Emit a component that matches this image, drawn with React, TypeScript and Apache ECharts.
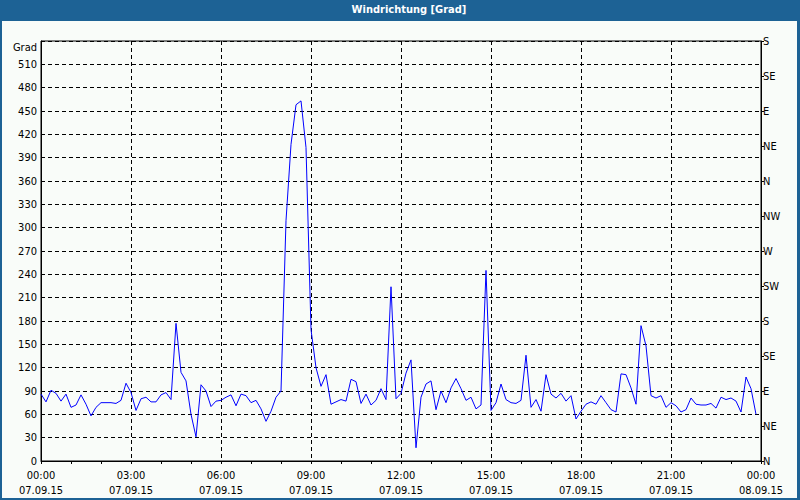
import React, { useEffect, useRef } from "react";
import * as echarts from "echarts";

const titleText = "Windrichtung [Grad]";
const unitLabel = "Grad";

// 10-minute samples, 00:00 .. 23:50 on 07.09.15
const stepMinutes = 10;
const values0006 = [
  86, 76, 91, 87, 77, 86, 69, 72, 85, 73, 58, 69, 75, 75, 75, 74, 78, 100,
  88, 65, 80, 82, 76, 76, 85, 88, 79, 177, 114, 103, 60, 31, 98, 90, 70, 77,
];
const values0612 = [
  78, 82, 85, 71, 86, 84, 75, 78, 67, 51, 64, 82, 90, 309, 407, 458, 463, 403,
  169, 120, 96, 111, 73, 76, 79, 77, 105, 102, 74, 86, 72, 78, 93, 79, 224, 80,
];
const values1218 = [
  87, 113, 130, 17, 82, 99, 103, 66, 90, 75, 94, 106, 93, 78, 82, 67, 72, 245,
  65, 75, 99, 79, 75, 74, 78, 136, 69, 79, 64, 111, 86, 81, 87, 77, 84, 54,
];
const values1824 = [
  64, 73, 76, 73, 84, 75, 66, 63, 112, 111, 94, 73, 174, 148, 84, 81, 84, 69,
  75, 71, 63, 66, 81, 73, 72, 72, 74, 68, 82, 79, 81, 77, 63, 108, 93, 60,
];

const xTickTimes = ["00:00", "03:00", "06:00", "09:00", "12:00", "15:00", "18:00", "21:00", "00:00"];
const xTickDates = ["07.09.15", "07.09.15", "07.09.15", "07.09.15", "07.09.15", "07.09.15", "07.09.15", "07.09.15", "08.09.15"];
const compassLabels = ["N", "NE", "E", "SE", "S", "SW", "W", "NW", "N", "NE", "E", "SE", "S"];

const FONT = 'Tahoma, "DejaVu Sans Condensed", "Liberation Sans", sans-serif';

export default function App() {
  const ref = useRef<HTMLDivElement>(null);

  useEffect(() => {
    document.body.style.margin = "0";
    if (!ref.current) return;
    const chart = echarts.init(ref.current, undefined, { renderer: "svg" });
    const values = [...values0006, ...values0612, ...values1218, ...values1824];
    const data = values.map((v, i) => [i * stepMinutes, v]);

    const option: any = {
      animation: false,
      backgroundColor: "#1d6295",
      textStyle: { fontFamily: FONT },
      title: {
        text: titleText,
        left: 409,
        top: 4,
        padding: 0,
        textAlign: "center",
        textStyle: { color: "#ffffff", fontSize: 11, fontWeight: "bold", fontFamily: FONT },
      },
      graphic: [
        {
          type: "rect",
          z: -100,
          silent: true,
          shape: { x: 2, y: 21, width: 795, height: 477 },
          style: { fill: "#f9fcf9" },
        },
        {
          type: "text",
          z: 100,
          x: 37,
          y: 47,
          style: {
            text: unitLabel,
            fill: "#000",
            font: `11px ${FONT}`,
            textAlign: "right",
            align: "right",
            textVerticalAlign: "middle",
            verticalAlign: "middle",
          },
        },
      ],
      grid: { left: 41, top: 41, width: 720, height: 420, show: true, borderColor: "#000", borderWidth: 1, backgroundColor: "transparent" },
      xAxis: {
        type: "value",
        min: 0,
        max: 1440,
        interval: 180,
        axisLine: { show: true, lineStyle: { color: "#000", width: 1 } },
        axisTick: { show: true, length: 3, lineStyle: { color: "#000" } },
        minorTick: { show: true, splitNumber: 3, length: 3, lineStyle: { color: "#000" } },
        splitLine: { show: true, lineStyle: { color: "#000", type: [4, 3], width: 1 } },
        axisLabel: {
          color: "#000",
          fontSize: 11,
          fontFamily: FONT,
          margin: 7,
          lineHeight: 15,
          formatter: (v: number) => {
            const idx = Math.round(v / 180);
            return `${xTickTimes[idx]}\n${xTickDates[idx]}`;
          },
        },
      },
      yAxis: [
        {
          type: "value",
          min: 0,
          max: 540,
          interval: 30,
          position: "left",
          axisLine: { show: true, lineStyle: { color: "#000", width: 1 } },
          axisTick: { show: false },
          splitLine: { show: true, lineStyle: { color: "#000", type: [4, 3], width: 1 } },
          axisLabel: {
            color: "#000",
            fontSize: 11,
            fontFamily: FONT,
            margin: 4,
            formatter: (v: number) => (v >= 540 ? "" : String(v)),
          },
        },
        {
          type: "value",
          min: 0,
          max: 540,
          interval: 45,
          position: "right",
          axisLine: { show: true, lineStyle: { color: "#000", width: 1 } },
          axisTick: { show: true, length: 3, lineStyle: { color: "#000" } },
          splitLine: { show: false },
          axisLabel: {
            color: "#000",
            fontSize: 11,
            fontFamily: FONT,
            margin: 2,
            formatter: (v: number) => compassLabels[Math.round(v / 45)] ?? "",
          },
        },
      ],
      series: [
        {
          type: "line",
          data,
          symbol: "none",
          yAxisIndex: 0,
          lineStyle: { color: "#0000ff", width: 1 },
          z: 5,
        },
      ],
    };
    chart.setOption(option);
    return () => chart.dispose();
  }, []);

  return (
    <div
      ref={ref}
      style={{ position: "fixed", left: 0, top: 0, width: 800, height: 500 }}
    />
  );
}
